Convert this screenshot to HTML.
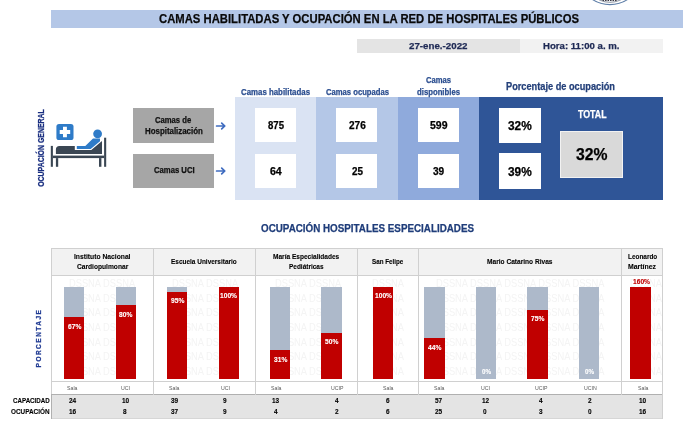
<!DOCTYPE html><html lang="es"><head><meta charset="utf-8"><title>Camas habilitadas y ocupación</title><style>
html,body{margin:0;padding:0;background:#fff}
#p{position:relative;width:700px;height:431px;overflow:hidden;background:#fff;font-family:"Liberation Sans", sans-serif}
#p div,#p span{position:absolute;box-sizing:border-box}
.t{white-space:nowrap;line-height:1;transform-origin:0 50%;}
.wm{white-space:nowrap;line-height:1;color:#f4f4f4;font-size:10px;transform-origin:0 50%;transform:scaleX(.93)}
</style></head><body><div id="p">
<svg style="position:absolute;left:588px;top:0" width="44" height="6" viewBox="0 0 44 6"><circle cx="22" cy="-27.6" r="32.2" fill="#fff" stroke="#5f7fa8" stroke-width="1.1"/><circle cx="22" cy="-22.8" r="25.1" fill="none" stroke="#5a6475" stroke-width=".7"/><path d="M14.5 0.4L29.5 0.4" stroke="#3a3a46" stroke-width="1.3" stroke-dasharray="1.6 .9"/></svg>
<div style="left:51.00px;top:10.00px;width:632.00px;height:17.50px;background:#b4c7e7;"></div>
<div style="left:356.50px;top:38.75px;width:163.50px;height:13.75px;background:#e4e4e4;"></div>
<div style="left:520.00px;top:38.75px;width:143.00px;height:13.75px;background:#f2f2f2;"></div>
<div style="left:234.60px;top:97.00px;width:81.40px;height:102.50px;background:#dae3f3;"></div>
<div style="left:316.00px;top:97.00px;width:82.00px;height:102.50px;background:#b4c7e7;"></div>
<div style="left:398.00px;top:97.00px;width:81.25px;height:102.50px;background:#8faadc;"></div>
<div style="left:479.25px;top:97.00px;width:183.50px;height:102.50px;background:#2f5597;"></div>
<div style="left:255.00px;top:108.10px;width:41.25px;height:34.20px;background:#fff;"></div>
<div style="left:255.00px;top:154.00px;width:41.25px;height:33.50px;background:#fff;"></div>
<div style="left:336.00px;top:108.10px;width:41.25px;height:34.20px;background:#fff;"></div>
<div style="left:336.00px;top:154.00px;width:41.25px;height:33.50px;background:#fff;"></div>
<div style="left:417.50px;top:108.10px;width:41.25px;height:34.20px;background:#fff;"></div>
<div style="left:417.50px;top:154.00px;width:41.25px;height:33.50px;background:#fff;"></div>
<div style="left:499.25px;top:108.00px;width:41.25px;height:35.00px;background:#fff;"></div>
<div style="left:499.25px;top:153.00px;width:41.25px;height:35.50px;background:#fff;"></div>
<div style="left:560.00px;top:130.50px;width:63.00px;height:47.00px;background:#d9d9d9;border:1px solid #f2f2f2;"></div>
<div style="left:132.80px;top:108.10px;width:81.20px;height:34.80px;background:#a6a6a6;"></div>
<div style="left:132.80px;top:154.00px;width:81.20px;height:34.20px;background:#a6a6a6;"></div>
<svg style="position:absolute;left:215px;top:120.5px" width="12" height="10" viewBox="0 0 12 10"><path d="M1.6 5H9.6M6.7 2.1L9.8 5L6.7 7.9" fill="none" stroke="#3f6cc0" stroke-width="1.7" stroke-linecap="round" stroke-linejoin="round"/></svg>
<svg style="position:absolute;left:215px;top:165.8px" width="12" height="10" viewBox="0 0 12 10"><path d="M1.6 5H9.6M6.7 2.1L9.8 5L6.7 7.9" fill="none" stroke="#3f6cc0" stroke-width="1.7" stroke-linecap="round" stroke-linejoin="round"/></svg>
<svg style="position:absolute;left:45px;top:115px" width="70" height="60" viewBox="0 0 70 60">
<rect x="11.4" y="9" width="17.1" height="16" rx="2.6" fill="#2e7bc8"/>
<path d="M18 11.8h3.9v3.3h3.3v3.9h-3.3v3.3H18V19h-3.3v-3.9H18z" fill="#fff"/>
<circle cx="52.6" cy="18.8" r="4.4" fill="#2e7bc8"/>
<path d="M10.9 39V34.4Q10.9 30.9 14.4 30.9H29.8V35.1H46.3L57 26V39z" fill="#3a4653"/>
<path d="M31.8 30.9H40.3L48 23.6H55V26.3L45.7 34H31.8z" fill="#2e7bc8"/>
<rect x="5.8" y="30.9" width="2.1" height="20.9" fill="#3a4653"/>
<rect x="59.1" y="22.7" width="2.1" height="29.1" fill="#3a4653"/>
<rect x="7.9" y="40.6" width="51.2" height="2.5" fill="#3a4653"/>
<rect x="10.9" y="43.1" width="2.3" height="8.7" fill="#3a4653"/>
<rect x="54" y="43.1" width="2.4" height="8.7" fill="#3a4653"/>
</svg>
<span id="v1" class="t" style="left:41.5px;top:148.2px;font-size:8.2px;font-weight:bold;color:#1a2f80;-webkit-text-stroke:.25px #1a2f80;transform-origin:50% 50%;transform:translate(-50%,-50%) rotate(-90deg) scaleX(0.847)">OCUPACIÓN GENERAL</span>
<span id="v2" class="t" style="left:37.9px;top:337.9px;font-size:7px;letter-spacing:1.6px;font-weight:bold;color:#1f3a93;-webkit-text-stroke:.25px #1f3a93;transform-origin:50% 50%;transform:translate(-50%,-50%) rotate(-90deg) scaleX(0.9299)">PORCENTAJE</span>
<div style="left:51.75px;top:248.00px;width:611.50px;height:27.00px;background:#f2f2f2;"></div>
<div style="left:51.75px;top:394.75px;width:611.50px;height:23.50px;background:#e4e4e4;"></div>
<span class="wm" style="left:68.6px;top:278.9px">DSSNA DSSNA</span>
<span class="wm" style="left:171.5px;top:278.9px">DSSNA DSSNA</span>
<span class="wm" style="left:274.5px;top:278.9px">DSSNA DSSNA</span>
<span class="wm" style="left:372.4px;top:278.9px">DSSNA</span>
<span class="wm" style="left:436.4px;top:278.9px">DSSNA DSSNA DSSNA DSSNA DSSNA</span>
<span class="wm" style="left:629.8px;top:278.9px">DSSNA</span>
<span class="wm" style="left:68.6px;top:293.5px">DSSNA DSSNA</span>
<span class="wm" style="left:171.5px;top:293.5px">DSSNA DSSNA</span>
<span class="wm" style="left:274.5px;top:293.5px">DSSNA DSSNA</span>
<span class="wm" style="left:372.4px;top:293.5px">DSSNA</span>
<span class="wm" style="left:436.4px;top:293.5px">DSSNA DSSNA DSSNA DSSNA DSSNA</span>
<span class="wm" style="left:629.8px;top:293.5px">DSSNA</span>
<span class="wm" style="left:68.6px;top:308.2px">DSSNA DSSNA</span>
<span class="wm" style="left:171.5px;top:308.2px">DSSNA DSSNA</span>
<span class="wm" style="left:274.5px;top:308.2px">DSSNA DSSNA</span>
<span class="wm" style="left:372.4px;top:308.2px">DSSNA</span>
<span class="wm" style="left:436.4px;top:308.2px">DSSNA DSSNA DSSNA DSSNA DSSNA</span>
<span class="wm" style="left:629.8px;top:308.2px">DSSNA</span>
<span class="wm" style="left:68.6px;top:322.8px">DSSNA DSSNA</span>
<span class="wm" style="left:171.5px;top:322.8px">DSSNA DSSNA</span>
<span class="wm" style="left:274.5px;top:322.8px">DSSNA DSSNA</span>
<span class="wm" style="left:372.4px;top:322.8px">DSSNA</span>
<span class="wm" style="left:436.4px;top:322.8px">DSSNA DSSNA DSSNA DSSNA DSSNA</span>
<span class="wm" style="left:629.8px;top:322.8px">DSSNA</span>
<span class="wm" style="left:68.6px;top:337.5px">DSSNA DSSNA</span>
<span class="wm" style="left:171.5px;top:337.5px">DSSNA DSSNA</span>
<span class="wm" style="left:274.5px;top:337.5px">DSSNA DSSNA</span>
<span class="wm" style="left:372.4px;top:337.5px">DSSNA</span>
<span class="wm" style="left:436.4px;top:337.5px">DSSNA DSSNA DSSNA DSSNA DSSNA</span>
<span class="wm" style="left:629.8px;top:337.5px">DSSNA</span>
<span class="wm" style="left:68.6px;top:352.1px">DSSNA DSSNA</span>
<span class="wm" style="left:171.5px;top:352.1px">DSSNA DSSNA</span>
<span class="wm" style="left:274.5px;top:352.1px">DSSNA DSSNA</span>
<span class="wm" style="left:372.4px;top:352.1px">DSSNA</span>
<span class="wm" style="left:436.4px;top:352.1px">DSSNA DSSNA DSSNA DSSNA DSSNA</span>
<span class="wm" style="left:629.8px;top:352.1px">DSSNA</span>
<span class="wm" style="left:68.6px;top:366.8px">DSSNA DSSNA</span>
<span class="wm" style="left:171.5px;top:366.8px">DSSNA DSSNA</span>
<span class="wm" style="left:274.5px;top:366.8px">DSSNA DSSNA</span>
<span class="wm" style="left:372.4px;top:366.8px">DSSNA</span>
<span class="wm" style="left:436.4px;top:366.8px">DSSNA DSSNA DSSNA DSSNA DSSNA</span>
<span class="wm" style="left:629.8px;top:366.8px">DSSNA</span>
<div style="left:64.10px;top:287.10px;width:20.40px;height:91.50px;background:#adb9ca;"></div>
<div style="left:64.10px;top:317.30px;width:20.40px;height:61.31px;background:#c00000;"></div>
<div style="left:115.57px;top:287.10px;width:20.40px;height:91.50px;background:#adb9ca;"></div>
<div style="left:115.57px;top:305.40px;width:20.40px;height:73.20px;background:#c00000;"></div>
<div style="left:167.04px;top:287.10px;width:20.40px;height:91.50px;background:#adb9ca;"></div>
<div style="left:167.04px;top:291.68px;width:20.40px;height:86.93px;background:#c00000;"></div>
<div style="left:218.51px;top:287.10px;width:20.40px;height:91.50px;background:#adb9ca;"></div>
<div style="left:218.51px;top:287.10px;width:20.40px;height:91.50px;background:#c00000;"></div>
<div style="left:269.98px;top:287.10px;width:20.40px;height:91.50px;background:#adb9ca;"></div>
<div style="left:269.98px;top:350.24px;width:20.40px;height:28.37px;background:#c00000;"></div>
<div style="left:321.45px;top:287.10px;width:20.40px;height:91.50px;background:#adb9ca;"></div>
<div style="left:321.45px;top:332.85px;width:20.40px;height:45.75px;background:#c00000;"></div>
<div style="left:372.92px;top:287.10px;width:20.40px;height:91.50px;background:#adb9ca;"></div>
<div style="left:372.92px;top:287.10px;width:20.40px;height:91.50px;background:#c00000;"></div>
<div style="left:424.39px;top:287.10px;width:20.40px;height:91.50px;background:#adb9ca;"></div>
<div style="left:424.39px;top:338.34px;width:20.40px;height:40.26px;background:#c00000;"></div>
<div style="left:475.86px;top:287.10px;width:20.40px;height:91.50px;background:#adb9ca;"></div>
<div style="left:527.33px;top:287.10px;width:20.40px;height:91.50px;background:#adb9ca;"></div>
<div style="left:527.33px;top:309.98px;width:20.40px;height:68.62px;background:#c00000;"></div>
<div style="left:578.80px;top:287.10px;width:20.40px;height:91.50px;background:#adb9ca;"></div>
<div style="left:630.27px;top:287.10px;width:20.40px;height:91.50px;background:#adb9ca;"></div>
<div style="left:630.27px;top:287.10px;width:20.40px;height:91.50px;background:#c00000;"></div>
<div style="left:663.40px;top:276.00px;width:37.00px;height:118.00px;background:#fff;"></div>
<div style="left:51.75px;top:247.60px;width:611.50px;height:1.00px;background:#d0d0d0;"></div>
<div style="left:51.75px;top:274.60px;width:611.50px;height:1.00px;background:#d0d0d0;"></div>
<div style="left:51.75px;top:380.60px;width:611.50px;height:1.00px;background:#d0d0d0;"></div>
<div style="left:51.75px;top:394.20px;width:611.50px;height:1.00px;background:#b0b0b0;"></div>
<div style="left:51.75px;top:417.80px;width:611.50px;height:1.00px;background:#d6d6d6;"></div>
<div style="left:51.20px;top:248.00px;width:1.00px;height:146.50px;background:#d0d0d0;"></div>
<div style="left:152.90px;top:248.00px;width:1.00px;height:146.50px;background:#d0d0d0;"></div>
<div style="left:254.60px;top:248.00px;width:1.00px;height:146.50px;background:#d0d0d0;"></div>
<div style="left:357.00px;top:248.00px;width:1.00px;height:146.50px;background:#d0d0d0;"></div>
<div style="left:417.80px;top:248.00px;width:1.00px;height:146.50px;background:#d0d0d0;"></div>
<div style="left:621.30px;top:248.00px;width:1.00px;height:146.50px;background:#d0d0d0;"></div>
<div style="left:51.20px;top:394.00px;width:1.00px;height:24.50px;background:#b0b0b0;"></div>
<div style="left:662.30px;top:248.00px;width:1.00px;height:170.50px;background:#d0d0d0;"></div>
<span id="t0" class="t" style="left:159.00px;top:12.05px;font-size:13px;font-weight:bold;color:#0a0a0a;-webkit-text-stroke:.25px #0a0a0a;transform:scaleX(0.8683);">CAMAS HABILITADAS Y OCUPACIÓN EN LA RED DE HOSPITALES PÚBLICOS</span>
<span id="t1" class="t" style="left:409.00px;top:41.11px;font-size:9.5px;font-weight:bold;color:#1f2a55;-webkit-text-stroke:.25px #1f2a55;transform:scaleX(1.0255);">27-ene.-2022</span>
<span id="t2" class="t" style="left:542.50px;top:41.36px;font-size:9.5px;font-weight:bold;color:#1f2a55;-webkit-text-stroke:.25px #1f2a55;transform:scaleX(1.0130);">Hora: 11:00 a. m.</span>
<span id="t3" class="t" style="left:241.00px;top:87.80px;font-size:8.6px;font-weight:bold;color:#2a4d8f;-webkit-text-stroke:.25px #2a4d8f;transform:scaleX(0.9143);">Camas habilitadas</span>
<span id="t4" class="t" style="left:326.00px;top:87.80px;font-size:8.6px;font-weight:bold;color:#2a4d8f;-webkit-text-stroke:.25px #2a4d8f;transform:scaleX(0.8910);">Camas ocupadas</span>
<span id="t5" class="t" style="left:426.00px;top:76.10px;font-size:8.6px;font-weight:bold;color:#2a4d8f;-webkit-text-stroke:.25px #2a4d8f;transform:scaleX(0.8869);">Camas</span>
<span id="t6" class="t" style="left:417.00px;top:87.90px;font-size:8.6px;font-weight:bold;color:#2a4d8f;-webkit-text-stroke:.25px #2a4d8f;transform:scaleX(0.9005);">disponibles</span>
<span id="t7" class="t" style="left:506.00px;top:82.11px;font-size:10px;font-weight:bold;color:#24407a;-webkit-text-stroke:.25px #24407a;transform:scaleX(0.9208);">Porcentaje de ocupación</span>
<span id="t8" class="t" style="left:577.50px;top:109.61px;font-size:10px;font-weight:bold;color:#fff;-webkit-text-stroke:.25px #fff;transform:scaleX(0.8795);">TOTAL</span>
<span id="t9" class="t" style="left:155.30px;top:115.65px;font-size:8.3px;font-weight:bold;color:#111;-webkit-text-stroke:.25px #111;transform:scaleX(0.9234);">Camas de</span>
<span id="t10" class="t" style="left:145.00px;top:127.25px;font-size:8.3px;font-weight:bold;color:#111;-webkit-text-stroke:.25px #111;transform:scaleX(0.9497);">Hospitalización</span>
<span id="t11" class="t" style="left:153.60px;top:166.25px;font-size:8.3px;font-weight:bold;color:#111;-webkit-text-stroke:.25px #111;transform:scaleX(0.9267);">Camas UCI</span>
<span id="t12" class="t" style="left:268.00px;top:120.61px;font-size:10px;font-weight:bold;color:#000;-webkit-text-stroke:.25px #000;transform:scaleX(0.9588);">875</span>
<span id="t13" class="t" style="left:349.00px;top:120.61px;font-size:10px;font-weight:bold;color:#000;-webkit-text-stroke:.25px #000;transform:scaleX(1.0037);">276</span>
<span id="t14" class="t" style="left:430.00px;top:120.61px;font-size:10px;font-weight:bold;color:#000;-webkit-text-stroke:.25px #000;transform:scaleX(1.0487);">599</span>
<span id="t15" class="t" style="left:270.00px;top:166.62px;font-size:10px;font-weight:bold;color:#000;-webkit-text-stroke:.25px #000;transform:scaleX(1.0562);">64</span>
<span id="t16" class="t" style="left:352.00px;top:166.62px;font-size:10px;font-weight:bold;color:#000;-webkit-text-stroke:.25px #000;transform:scaleX(0.9888);">25</span>
<span id="t17" class="t" style="left:433.25px;top:166.87px;font-size:10px;font-weight:bold;color:#000;-webkit-text-stroke:.25px #000;transform:scaleX(1.0112);">39</span>
<span id="t18" class="t" style="left:508.25px;top:119.64px;font-size:12px;font-weight:bold;color:#000;-webkit-text-stroke:.25px #000;transform:scaleX(0.9883);">32%</span>
<span id="t19" class="t" style="left:508.25px;top:165.89px;font-size:12px;font-weight:bold;color:#000;-webkit-text-stroke:.25px #000;transform:scaleX(0.9883);">39%</span>
<span id="t20" class="t" style="left:576.00px;top:145.94px;font-size:16.5px;font-weight:bold;color:#000;-webkit-text-stroke:.25px #000;transform:scaleX(0.9536);">32%</span>
<span id="t21" class="t" style="left:261.00px;top:222.67px;font-size:10.5px;font-weight:bold;color:#1f3d7a;-webkit-text-stroke:.25px #1f3d7a;transform:scaleX(0.9354);">OCUPACIÓN HOSPITALES ESPECIALIDADES</span>
<span id="t22" class="t" style="left:74.00px;top:253.34px;font-size:7.5px;font-weight:bold;color:#000;-webkit-text-stroke:.12px #000;transform:scaleX(0.8979);">Instituto Nacional</span>
<span id="t23" class="t" style="left:76.75px;top:263.34px;font-size:7.5px;font-weight:bold;color:#000;-webkit-text-stroke:.12px #000;transform:scaleX(0.8848);">Cardiopulmonar</span>
<span id="t24" class="t" style="left:171.25px;top:258.09px;font-size:7.5px;font-weight:bold;color:#000;-webkit-text-stroke:.12px #000;transform:scaleX(0.8618);">Escuela Universitario</span>
<span id="t25" class="t" style="left:273.00px;top:253.34px;font-size:7.5px;font-weight:bold;color:#000;-webkit-text-stroke:.12px #000;transform:scaleX(0.8731);">María Especialidades</span>
<span id="t26" class="t" style="left:288.75px;top:262.59px;font-size:7.5px;font-weight:bold;color:#000;-webkit-text-stroke:.12px #000;transform:scaleX(0.8618);">Pediátricas</span>
<span id="t27" class="t" style="left:371.75px;top:258.09px;font-size:7.5px;font-weight:bold;color:#000;-webkit-text-stroke:.12px #000;transform:scaleX(0.8330);">San Felipe</span>
<span id="t28" class="t" style="left:487.00px;top:258.09px;font-size:7.5px;font-weight:bold;color:#000;-webkit-text-stroke:.12px #000;transform:scaleX(0.8779);">Mario Catarino Rivas</span>
<span id="t29" class="t" style="left:627.50px;top:253.34px;font-size:7.5px;font-weight:bold;color:#000;-webkit-text-stroke:.12px #000;transform:scaleX(0.8560);">Leonardo</span>
<span id="t30" class="t" style="left:628.25px;top:262.59px;font-size:7.5px;font-weight:bold;color:#000;-webkit-text-stroke:.12px #000;transform:scaleX(0.9204);">Martínez</span>
<span id="t31" class="t" style="left:12.50px;top:396.59px;font-size:7.5px;font-weight:bold;color:#000;-webkit-text-stroke:.12px #000;transform:scaleX(0.8267);">CAPACIDAD</span>
<span id="t32" class="t" style="left:10.75px;top:408.09px;font-size:7.5px;font-weight:bold;color:#000;-webkit-text-stroke:.12px #000;transform:scaleX(0.8502);">OCUPACIÓN</span>
<span id="t33" class="t" style="left:67.68px;top:322.58px;font-size:7px;font-weight:bold;color:#fff;-webkit-text-stroke:.12px #fff;transform:scaleX(0.9500);">67%</span>
<span id="t34" class="t" style="left:67.30px;top:385.67px;font-size:5.8px;font-weight:normal;color:#595959;transform:scaleX(0.9000);">Sala</span>
<span id="t35" class="t" style="left:68.91px;top:396.94px;font-size:7.5px;font-weight:bold;color:#000;-webkit-text-stroke:.12px #000;transform:scaleX(0.8600);">24</span>
<span id="t36" class="t" style="left:68.91px;top:408.34px;font-size:7.5px;font-weight:bold;color:#000;-webkit-text-stroke:.12px #000;transform:scaleX(0.8600);">16</span>
<span id="t37" class="t" style="left:119.15px;top:310.68px;font-size:7px;font-weight:bold;color:#fff;-webkit-text-stroke:.12px #fff;transform:scaleX(0.9500);">80%</span>
<span id="t38" class="t" style="left:120.96px;top:385.67px;font-size:5.8px;font-weight:normal;color:#595959;transform:scaleX(0.9000);">UCI</span>
<span id="t39" class="t" style="left:121.91px;top:396.94px;font-size:7.5px;font-weight:bold;color:#000;-webkit-text-stroke:.12px #000;transform:scaleX(0.8600);">10</span>
<span id="t40" class="t" style="left:123.46px;top:408.34px;font-size:7.5px;font-weight:bold;color:#000;-webkit-text-stroke:.12px #000;transform:scaleX(0.8600);">8</span>
<span id="t41" class="t" style="left:170.62px;top:296.96px;font-size:7px;font-weight:bold;color:#fff;-webkit-text-stroke:.12px #fff;transform:scaleX(0.9500);">95%</span>
<span id="t42" class="t" style="left:169.30px;top:385.67px;font-size:5.8px;font-weight:normal;color:#595959;transform:scaleX(0.9000);">Sala</span>
<span id="t43" class="t" style="left:170.91px;top:396.94px;font-size:7.5px;font-weight:bold;color:#000;-webkit-text-stroke:.12px #000;transform:scaleX(0.8600);">39</span>
<span id="t44" class="t" style="left:170.91px;top:408.34px;font-size:7.5px;font-weight:bold;color:#000;-webkit-text-stroke:.12px #000;transform:scaleX(0.8600);">37</span>
<span id="t45" class="t" style="left:220.33px;top:292.38px;font-size:7px;font-weight:bold;color:#fff;-webkit-text-stroke:.12px #fff;transform:scaleX(0.9500);">100%</span>
<span id="t46" class="t" style="left:220.96px;top:385.67px;font-size:5.8px;font-weight:normal;color:#595959;transform:scaleX(0.9000);">UCI</span>
<span id="t47" class="t" style="left:223.46px;top:396.94px;font-size:7.5px;font-weight:bold;color:#000;-webkit-text-stroke:.12px #000;transform:scaleX(0.8600);">9</span>
<span id="t48" class="t" style="left:223.46px;top:408.34px;font-size:7.5px;font-weight:bold;color:#000;-webkit-text-stroke:.12px #000;transform:scaleX(0.8600);">9</span>
<span id="t49" class="t" style="left:273.56px;top:355.52px;font-size:7px;font-weight:bold;color:#fff;-webkit-text-stroke:.12px #fff;transform:scaleX(0.9500);">31%</span>
<span id="t50" class="t" style="left:270.60px;top:385.67px;font-size:5.8px;font-weight:normal;color:#595959;transform:scaleX(0.9000);">Sala</span>
<span id="t51" class="t" style="left:272.21px;top:396.94px;font-size:7.5px;font-weight:bold;color:#000;-webkit-text-stroke:.12px #000;transform:scaleX(0.8600);">13</span>
<span id="t52" class="t" style="left:273.76px;top:408.34px;font-size:7.5px;font-weight:bold;color:#000;-webkit-text-stroke:.12px #000;transform:scaleX(0.8600);">4</span>
<span id="t53" class="t" style="left:325.03px;top:338.13px;font-size:7px;font-weight:bold;color:#fff;-webkit-text-stroke:.12px #fff;transform:scaleX(0.9500);">50%</span>
<span id="t54" class="t" style="left:331.39px;top:385.67px;font-size:5.8px;font-weight:normal;color:#595959;transform:scaleX(0.9000);">UCIP</span>
<span id="t55" class="t" style="left:335.46px;top:396.94px;font-size:7.5px;font-weight:bold;color:#000;-webkit-text-stroke:.12px #000;transform:scaleX(0.8600);">4</span>
<span id="t56" class="t" style="left:335.46px;top:408.34px;font-size:7.5px;font-weight:bold;color:#000;-webkit-text-stroke:.12px #000;transform:scaleX(0.8600);">2</span>
<span id="t57" class="t" style="left:374.74px;top:292.38px;font-size:7px;font-weight:bold;color:#fff;-webkit-text-stroke:.12px #fff;transform:scaleX(0.9500);">100%</span>
<span id="t58" class="t" style="left:383.10px;top:385.67px;font-size:5.8px;font-weight:normal;color:#595959;transform:scaleX(0.9000);">Sala</span>
<span id="t59" class="t" style="left:386.26px;top:396.94px;font-size:7.5px;font-weight:bold;color:#000;-webkit-text-stroke:.12px #000;transform:scaleX(0.8600);">6</span>
<span id="t60" class="t" style="left:386.26px;top:408.34px;font-size:7.5px;font-weight:bold;color:#000;-webkit-text-stroke:.12px #000;transform:scaleX(0.8600);">6</span>
<span id="t61" class="t" style="left:427.97px;top:343.62px;font-size:7px;font-weight:bold;color:#fff;-webkit-text-stroke:.12px #fff;transform:scaleX(0.9500);">44%</span>
<span id="t62" class="t" style="left:433.70px;top:385.67px;font-size:5.8px;font-weight:normal;color:#595959;transform:scaleX(0.9000);">Sala</span>
<span id="t63" class="t" style="left:435.31px;top:396.94px;font-size:7.5px;font-weight:bold;color:#000;-webkit-text-stroke:.12px #000;transform:scaleX(0.8600);">57</span>
<span id="t64" class="t" style="left:435.31px;top:408.34px;font-size:7.5px;font-weight:bold;color:#000;-webkit-text-stroke:.12px #000;transform:scaleX(0.8600);">25</span>
<span id="t65" class="t" style="left:481.96px;top:367.58px;font-size:7px;font-weight:bold;color:#fff;-webkit-text-stroke:.12px #fff;transform:scaleX(0.9000);">0%</span>
<span id="t66" class="t" style="left:480.66px;top:385.67px;font-size:5.8px;font-weight:normal;color:#595959;transform:scaleX(0.9000);">UCI</span>
<span id="t67" class="t" style="left:481.61px;top:396.94px;font-size:7.5px;font-weight:bold;color:#000;-webkit-text-stroke:.12px #000;transform:scaleX(0.8600);">12</span>
<span id="t68" class="t" style="left:483.16px;top:408.34px;font-size:7.5px;font-weight:bold;color:#000;-webkit-text-stroke:.12px #000;transform:scaleX(0.8600);">0</span>
<span id="t69" class="t" style="left:530.91px;top:315.26px;font-size:7px;font-weight:bold;color:#fff;-webkit-text-stroke:.12px #fff;transform:scaleX(0.9500);">75%</span>
<span id="t70" class="t" style="left:535.09px;top:385.67px;font-size:5.8px;font-weight:normal;color:#595959;transform:scaleX(0.9000);">UCIP</span>
<span id="t71" class="t" style="left:539.16px;top:396.94px;font-size:7.5px;font-weight:bold;color:#000;-webkit-text-stroke:.12px #000;transform:scaleX(0.8600);">4</span>
<span id="t72" class="t" style="left:539.16px;top:408.34px;font-size:7.5px;font-weight:bold;color:#000;-webkit-text-stroke:.12px #000;transform:scaleX(0.8600);">3</span>
<span id="t73" class="t" style="left:584.90px;top:367.58px;font-size:7px;font-weight:bold;color:#fff;-webkit-text-stroke:.12px #fff;transform:scaleX(0.9000);">0%</span>
<span id="t74" class="t" style="left:583.76px;top:385.67px;font-size:5.8px;font-weight:normal;color:#595959;transform:scaleX(0.9000);">UCIN</span>
<span id="t75" class="t" style="left:587.96px;top:396.94px;font-size:7.5px;font-weight:bold;color:#000;-webkit-text-stroke:.12px #000;transform:scaleX(0.8600);">2</span>
<span id="t76" class="t" style="left:587.96px;top:408.34px;font-size:7.5px;font-weight:bold;color:#000;-webkit-text-stroke:.12px #000;transform:scaleX(0.8600);">0</span>
<span id="t77" class="t" style="left:632.69px;top:277.83px;font-size:7px;font-weight:bold;color:#c00000;-webkit-text-stroke:.12px #c00000;transform:scaleX(0.9500);">160%</span>
<span id="t78" class="t" style="left:637.60px;top:385.67px;font-size:5.8px;font-weight:normal;color:#595959;transform:scaleX(0.9000);">Sala</span>
<span id="t79" class="t" style="left:639.21px;top:396.94px;font-size:7.5px;font-weight:bold;color:#000;-webkit-text-stroke:.12px #000;transform:scaleX(0.8600);">10</span>
<span id="t80" class="t" style="left:639.21px;top:408.34px;font-size:7.5px;font-weight:bold;color:#000;-webkit-text-stroke:.12px #000;transform:scaleX(0.8600);">16</span>
</div></body></html>
